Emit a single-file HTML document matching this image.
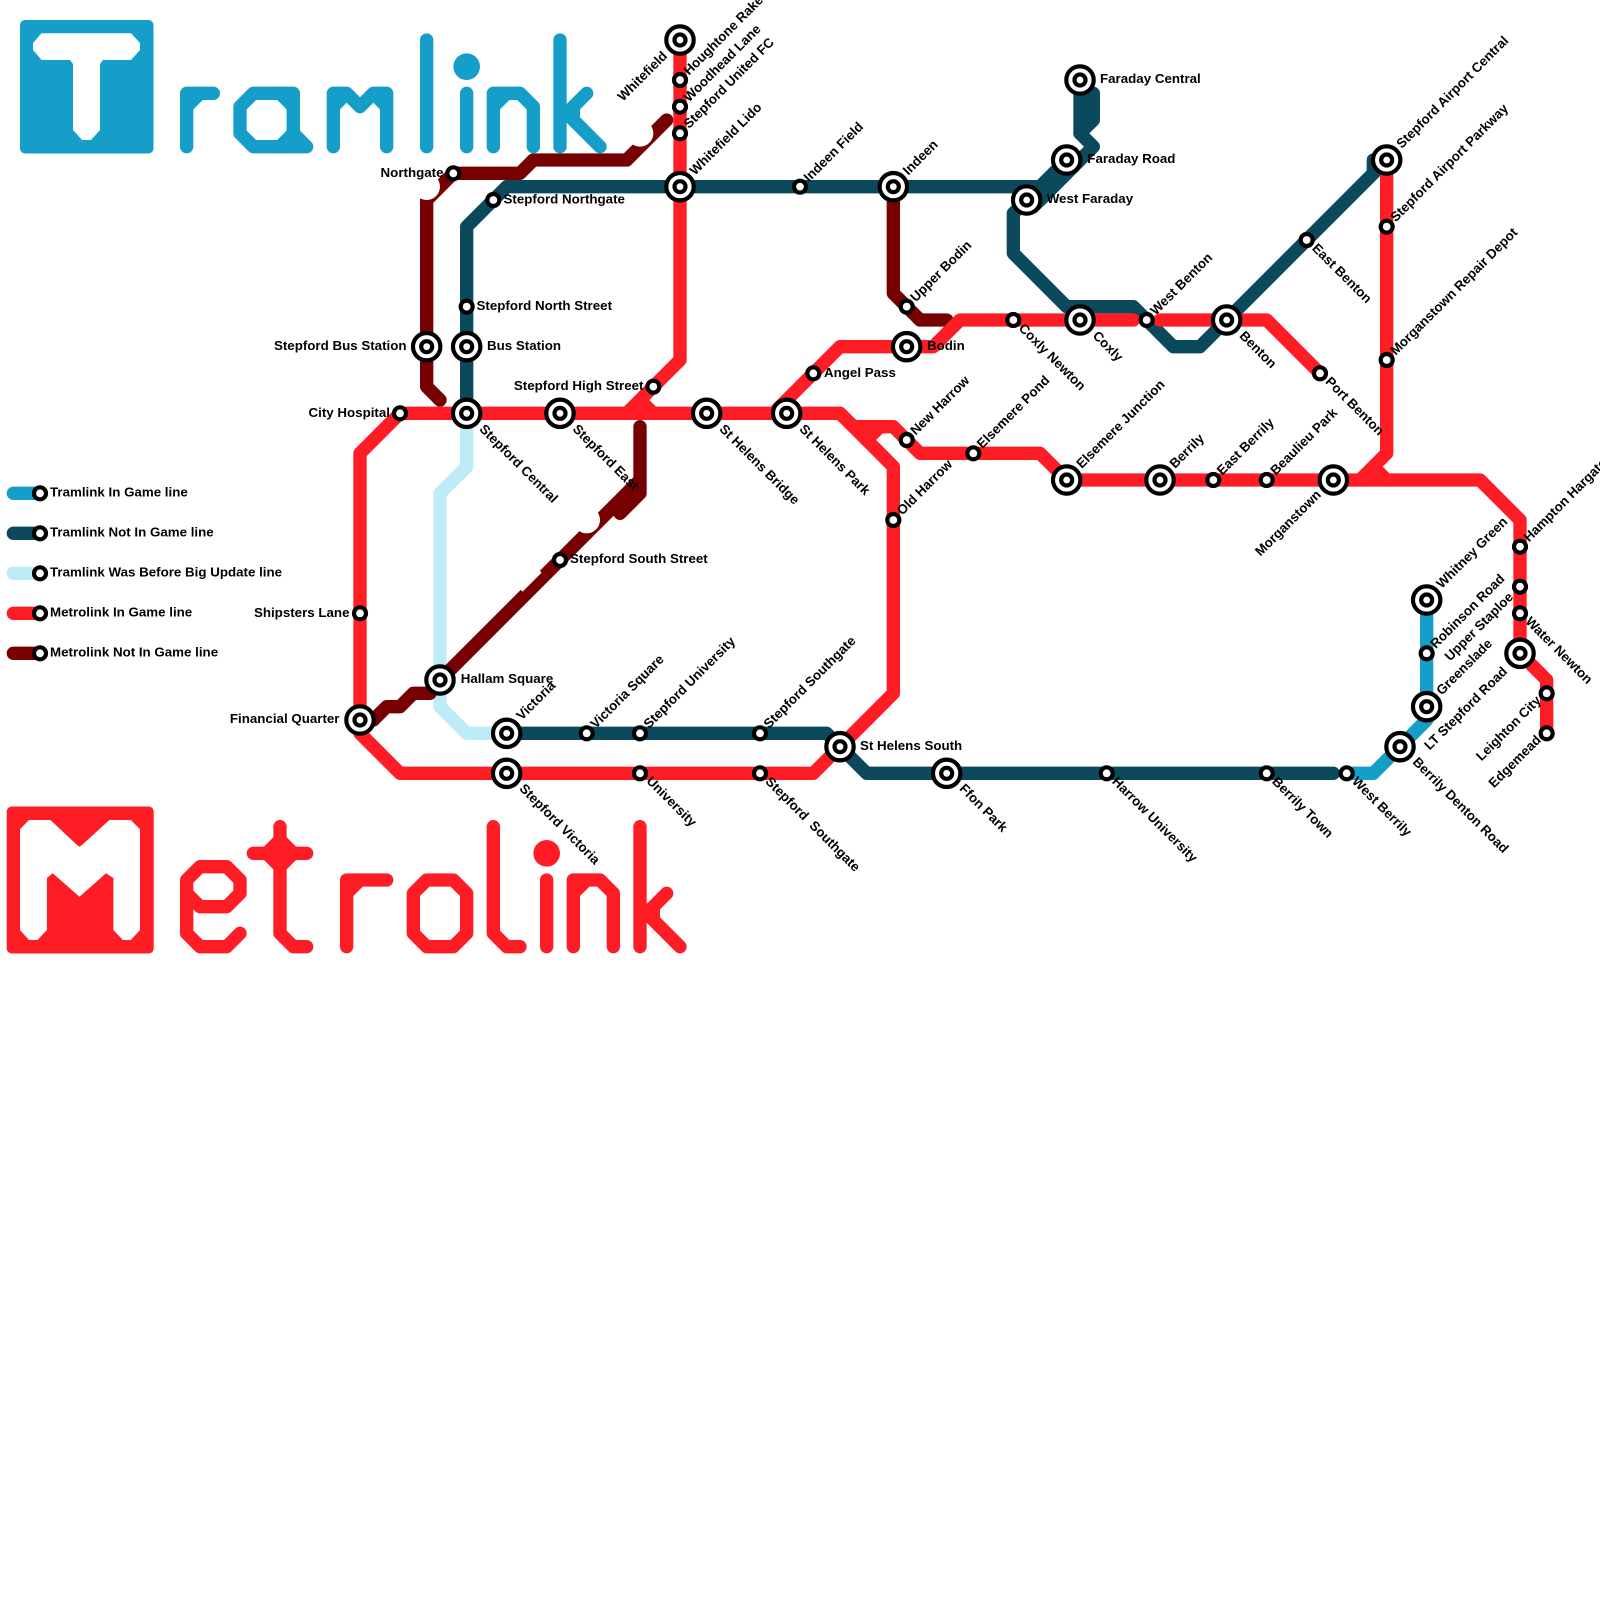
<!DOCTYPE html>
<html><head><meta charset="utf-8"><title>Tramlink and Metrolink</title>
<style>
html,body{margin:0;padding:0;background:#fff}
svg{display:block}
.l{fill:none;stroke-width:13.33;stroke-linecap:round;stroke-linejoin:round}
.b{stroke:#149ec8}.t{stroke:#0b4a5c}.p{stroke:#bdebf7}.r{stroke:#ff1d25}.d{stroke:#770000}
.s{fill:#fff;stroke:#000;stroke-width:4.2}
text{font-family:"Liberation Sans",Arial,sans-serif;font-weight:bold;font-size:13.33px;fill:#000;white-space:pre}
.e{text-anchor:end}
</style></head><body>
<svg xmlns="http://www.w3.org/2000/svg" width="1600" height="1600" viewBox="0 0 1600 1600">
<rect width="1600" height="1600" fill="#fff"/>

<!-- Tramlink logo -->
<rect x="20" y="20" width="133.5" height="133.5" rx="5" fill="#149ec8"/>
<polygon points="33,43 41.5,33.3 131,33.3 140,43 140,50 131,60 41.5,60 33,50" fill="#fff"/>
<polygon points="70,60 103,60 100,64 100,130 91,140 82,140 73,130 73,64" fill="#fff"/>
<path class="l b" d="M186.67 146.67V93.33H213.33M186.67 106.67L200 93.33"/>
<path class="l b" d="M253.33 93.33H280L293.33 106.67V133.33L280 146.67H253.33L240 133.33V106.67Z"/>
<path class="l b" d="M280 93.33H293.33V133.33L306.67 146.67H280"/>
<path class="l b" d="M333.33 146.67V93.33H346.67L360 106.67L373.33 93.33H386.67V146.67M333.33 106.67L346.67 93.33M373.33 93.33L386.67 106.67"/>
<path class="l b" d="M426.67 40V146.67M466.67 93.33V146.67"/>
<path class="l b" d="M493.33 146.67V93.33H520L533.33 106.67V146.67M493.33 106.67L506.67 93.33"/>
<path class="l b" d="M560 40V146.67M560 120L586.67 93.33M560 106.67L600 146.67M573.33 106.67V120"/>
<circle cx="466.67" cy="66.67" r="13.33" fill="#149ec8"/>

<!-- Metrolink logo -->
<rect x="6.7" y="806.5" width="147" height="147" rx="5" fill="#ff1d25"/>
<polygon points="20,829.3 29,820 50.4,820 77,845 79.5,846.7 82,845 109.4,820 130.8,820 140,829.3 140,930 130.8,940 122.8,940 113.4,930 113.4,878 106,873.3 79.5,896.7 52.7,873.3 46.9,878 46.9,930 37.5,940 29,940 20,930" fill="#fff"/>
<path class="l r" d="M186.67 880L200 866.67H226.67L240 880V893.33L226.67 906.67H200L186.67 893.33V880V933.33L200 946.67H226.67L240 933.33"/>
<path class="l r" d="M280 826.67V933.33L293.33 946.67H306.67M253.33 853.33H306.67M266.67 853.33L280 840L293.33 853.33L280 866.67Z"/>
<path class="l r" d="M346.67 946.67V880H386.67M346.67 893.33L360 880"/>
<path class="l r" d="M426.67 880H453.33L466.67 893.33V933.33L453.33 946.67H426.67L413.33 933.33V893.33Z"/>
<path class="l r" d="M493.33 826.67V933.33L506.67 946.67H520M546.67 880V946.67"/>
<path class="l r" d="M573.33 946.67V880H600L613.33 893.33V946.67M573.33 893.33L586.67 880"/>
<path class="l r" d="M640 826.67V946.67M640 920L666.67 893.33M640 906.67L680 946.67M653.33 906.67V920"/>
<circle cx="546.67" cy="853.33" r="13.33" fill="#ff1d25"/>

<!-- Lines -->
<path class="l p" d="M466.67 413.33V466.67L440 493.33V706.67L466.67 733.33H506.67"/>
<path class="l t" d="M466.67 413.33V226.67L506.67 186.67H1040L1066.67 160"/>
<path class="l t" d="M1080 80V133.33L1093.33 146.67L1033 207"/>
<path class="l t" d="M1026.67 200L1013.33 213.33V253.33L1066.67 306.67H1133.33L1173.33 346.67H1200L1386.67 160H1373.33V173.33"/>
<path class="l t" d="M1093.33 93.33V120L1080 133.33M1086 100V126"/>
<path class="l t" d="M1040 200L1080 160"/>
<path class="l t" d="M506.67 733.33H826.67L866.67 773.33H1333.33"/>
<path class="l b" d="M1426.67 600V720L1373.33 773.33H1346.67"/>
<path class="l d" d="M440 400L426.67 386.67V200L453.33 173.33H520L533.33 160H626.67L666.67 120"/>
<path class="l d" d="M893.33 186.67V293.33L920 320H946.67"/>
<path class="l d" d="M640 426.67V480L440 680M640 480V493.33L620 513.33"/>
<path class="l d" d="M373.33 720L386.67 706.67H400L413.33 693.33H430"/>
<circle cx="426.67" cy="186.67" r="13.33" fill="#fff"/>
<circle cx="640" cy="133.33" r="13.33" fill="#fff"/>
<circle cx="586.67" cy="520" r="13.33" fill="#fff"/>
<path d="M520.5 589.5L539.5 570.5" fill="none" stroke="#fff" stroke-width="6"/>
<path class="l r" d="M360 720V453.33L400 413.33H840L893.33 466.67V693.33L813.33 773.33H400L360 733.33V720"/>
<path class="l r" d="M680 40V360L626.67 413.33M640 400L653.33 413.33"/>
<path class="l r" d="M773.33 413.33L840 346.67H933.33L960 320H1133.33M1160 320H1266.67L1320 373.33"/>
<path class="l r" d="M840 413.33L853.33 426.67H893.33L920 453.33H1040L1066.67 480H1480L1520 520V653.33L1546.67 680V733.33M866.67 440L880 426.67"/>
<path class="l r" d="M1386.67 160V453.33L1360 480M1373.33 466.67L1386.67 480"/>

<!-- Legend lines -->
<path class="l b" d="M13.33 493.33H40"/>
<path class="l t" d="M13.33 533.33H40"/>
<path class="l p" d="M13.33 573.33H40"/>
<path class="l r" d="M13.33 613.33H40"/>
<path class="l d" d="M13.33 653.33H40"/>

<!-- Small stations -->
<g class="s">
<circle cx="40" cy="493.33" r="6"/><circle cx="40" cy="533.33" r="6"/><circle cx="40" cy="573.33" r="6"/><circle cx="40" cy="613.33" r="6"/><circle cx="40" cy="653.33" r="6"/>
<circle cx="453.33" cy="173.33" r="6"/><circle cx="493.33" cy="200" r="6"/><circle cx="466.67" cy="306.67" r="6"/><circle cx="400" cy="413.33" r="6"/><circle cx="360" cy="613.33" r="6"/>
<circle cx="680" cy="80" r="6"/><circle cx="680" cy="106.67" r="6"/><circle cx="680" cy="133.33" r="6"/><circle cx="800" cy="186.67" r="6"/>
<circle cx="906.67" cy="306.67" r="6"/><circle cx="813.33" cy="373.33" r="6"/><circle cx="653.33" cy="386.67" r="6"/><circle cx="560" cy="560" r="6"/>
<circle cx="906.67" cy="440" r="6"/><circle cx="973.33" cy="453.33" r="6"/><circle cx="893.33" cy="520" r="6"/><circle cx="1013.33" cy="320" r="6"/>
<circle cx="1146.67" cy="320" r="6"/><circle cx="1306.67" cy="240" r="6"/><circle cx="1386.67" cy="226.67" r="6"/><circle cx="1386.67" cy="360" r="6"/><circle cx="1320" cy="373.33" r="6"/>
<circle cx="1213.33" cy="480" r="6"/><circle cx="1266.67" cy="480" r="6"/><circle cx="1520" cy="546.67" r="6"/><circle cx="1520" cy="586.67" r="6"/><circle cx="1520" cy="613.33" r="6"/>
<circle cx="1426.67" cy="653.33" r="6"/><circle cx="1546.67" cy="693.33" r="6"/><circle cx="1546.67" cy="733.33" r="6"/>
<circle cx="586.67" cy="733.33" r="6"/><circle cx="640" cy="733.33" r="6"/><circle cx="760" cy="733.33" r="6"/><circle cx="640" cy="773.33" r="6"/><circle cx="760" cy="773.33" r="6"/>
<circle cx="1106.67" cy="773.33" r="6"/><circle cx="1266.67" cy="773.33" r="6"/><circle cx="1346.67" cy="773.33" r="6"/>
</g>

<!-- Interchange stations -->
<g class="s">
<circle cx="680" cy="40" r="13.7"/><circle cx="680" cy="40" r="5.5"/>
<circle cx="680" cy="186.67" r="13.7"/><circle cx="680" cy="186.67" r="5.5"/>
<circle cx="893.33" cy="186.67" r="13.7"/><circle cx="893.33" cy="186.67" r="5.5"/>
<circle cx="1080" cy="80" r="13.7"/><circle cx="1080" cy="80" r="5.5"/>
<circle cx="1066.67" cy="160" r="13.7"/><circle cx="1066.67" cy="160" r="5.5"/>
<circle cx="1026.67" cy="200" r="13.7"/><circle cx="1026.67" cy="200" r="5.5"/>
<circle cx="426.67" cy="346.67" r="13.7"/><circle cx="426.67" cy="346.67" r="5.5"/>
<circle cx="466.67" cy="346.67" r="13.7"/><circle cx="466.67" cy="346.67" r="5.5"/>
<circle cx="466.67" cy="413.33" r="13.7"/><circle cx="466.67" cy="413.33" r="5.5"/>
<circle cx="560" cy="413.33" r="13.7"/><circle cx="560" cy="413.33" r="5.5"/>
<circle cx="706.67" cy="413.33" r="13.7"/><circle cx="706.67" cy="413.33" r="5.5"/>
<circle cx="786.67" cy="413.33" r="13.7"/><circle cx="786.67" cy="413.33" r="5.5"/>
<circle cx="906.67" cy="346.67" r="13.7"/><circle cx="906.67" cy="346.67" r="5.5"/>
<circle cx="1080" cy="320" r="13.7"/><circle cx="1080" cy="320" r="5.5"/>
<circle cx="1226.67" cy="320" r="13.7"/><circle cx="1226.67" cy="320" r="5.5"/>
<circle cx="1386.67" cy="160" r="13.7"/><circle cx="1386.67" cy="160" r="5.5"/>
<circle cx="1066.67" cy="480" r="13.7"/><circle cx="1066.67" cy="480" r="5.5"/>
<circle cx="1160" cy="480" r="13.7"/><circle cx="1160" cy="480" r="5.5"/>
<circle cx="1333.33" cy="480" r="13.7"/><circle cx="1333.33" cy="480" r="5.5"/>
<circle cx="1426.67" cy="600" r="13.7"/><circle cx="1426.67" cy="600" r="5.5"/>
<circle cx="1426.67" cy="706.67" r="13.7"/><circle cx="1426.67" cy="706.67" r="5.5"/>
<circle cx="1520" cy="653.33" r="13.7"/><circle cx="1520" cy="653.33" r="5.5"/>
<circle cx="1400" cy="746.67" r="13.7"/><circle cx="1400" cy="746.67" r="5.5"/>
<circle cx="440" cy="680" r="13.7"/><circle cx="440" cy="680" r="5.5"/>
<circle cx="360" cy="720" r="13.7"/><circle cx="360" cy="720" r="5.5"/>
<circle cx="506.67" cy="733.33" r="13.7"/><circle cx="506.67" cy="733.33" r="5.5"/>
<circle cx="506.67" cy="773.33" r="13.7"/><circle cx="506.67" cy="773.33" r="5.5"/>
<circle cx="840" cy="746.67" r="13.7"/><circle cx="840" cy="746.67" r="5.5"/>
<circle cx="946.67" cy="773.33" r="13.7"/><circle cx="946.67" cy="773.33" r="5.5"/>
</g>

<!-- Legend labels -->
<text x="50" y="496.5">Tramlink In Game line</text>
<text x="50" y="536.5">Tramlink Not In Game line</text>
<text x="50" y="576.5">Tramlink Was Before Big Update line</text>
<text x="50" y="616.5">Metrolink In Game line</text>
<text x="50" y="656.5">Metrolink Not In Game line</text>

<!-- Horizontal labels -->
<text class="e" x="443.5" y="177">Northgate</text>
<text x="503.5" y="203.5">Stepford Northgate</text>
<text x="476.5" y="310">Stepford North Street</text>
<text class="e" x="406.5" y="350">Stepford Bus Station</text>
<text x="487" y="350">Bus Station</text>
<text class="e" x="390" y="417">City Hospital</text>
<text class="e" x="643.5" y="390">Stepford High Street</text>
<text x="460.7" y="683">Hallam Square</text>
<text class="e" x="339.5" y="723">Financial Quarter</text>
<text class="e" x="349.5" y="617">Shipsters Lane</text>
<text x="570" y="563">Stepford South Street</text>
<text x="860" y="750">St Helens South</text>
<text x="824" y="377">Angel Pass</text>
<text x="927" y="350">Bodin</text>
<text x="1100" y="83">Faraday Central</text>
<text x="1087.3" y="163">Faraday Road</text>
<text x="1046.7" y="203">West Faraday</text>

<!-- NE small -->
<text transform="translate(689,75.8) rotate(-45)">Houghtone Rake</text>
<text transform="translate(689,102.5) rotate(-45)">Woodhead Lane</text>
<text transform="translate(689,129.1) rotate(-45)">Stepford United FC</text>
<text transform="translate(809,182.5) rotate(-45)">Indeen Field</text>
<text transform="translate(915.7,302.5) rotate(-45)">Upper Bodin</text>
<text transform="translate(915.7,435.8) rotate(-45)">New Harrow</text>
<text transform="translate(982.3,449.1) rotate(-45)">Elsemere Pond</text>
<text transform="translate(902.3,515.8) rotate(-45)">Old Harrow</text>
<text transform="translate(1155.7,315.8) rotate(-45)">West Benton</text>
<text transform="translate(1395.7,222.5) rotate(-45)">Stepford Airport Parkway</text>
<text transform="translate(1395.7,355.8) rotate(-45)">Morganstown Repair Depot</text>
<text transform="translate(1222.3,475.8) rotate(-45)">East Berrily</text>
<text transform="translate(1275.7,475.8) rotate(-45)">Beaulieu Park</text>
<text transform="translate(1529,542.5) rotate(-45)">Hampton Hargate</text>
<text transform="translate(1435.7,649.1) rotate(-45)">Robinson Road</text>
<text transform="translate(595.7,729.1) rotate(-45)">Victoria Square</text>
<text transform="translate(649,729.1) rotate(-45)">Stepford University</text>
<text transform="translate(769,729.1) rotate(-45)">Stepford Southgate</text>

<!-- NE big -->
<text transform="translate(695,175.7) rotate(-45)">Whitefield Lido</text>
<text transform="translate(908.3,175.7) rotate(-45)">Indeen</text>
<text transform="translate(1401.7,149) rotate(-45)">Stepford Airport Central</text>
<text transform="translate(1081.7,469) rotate(-45)">Elsemere Junction</text>
<text transform="translate(1175,469) rotate(-45)">Berrily</text>
<text transform="translate(1441.7,589) rotate(-45)">Whitney Green</text>
<text transform="translate(1441.7,695.7) rotate(-45)">Greenslade</text>
<text transform="translate(521.7,720.8) rotate(-45)">Victoria</text>

<!-- SE small -->
<text transform="translate(1018,329) rotate(45)">Coxly Newton</text>
<text transform="translate(1311.4,249) rotate(45)">East Benton</text>
<text transform="translate(1324.7,382.3) rotate(45)">Port Benton</text>
<text transform="translate(1524.7,622.3) rotate(45)">Water Newton</text>
<text transform="translate(645.7,781.8) rotate(45)">University</text>
<text transform="translate(764.7,782.3) rotate(45)">Stepford  Southgate</text>
<text transform="translate(1111.4,782.3) rotate(45)">Harrow University</text>
<text transform="translate(1271.4,782.3) rotate(45)">Berrily Town</text>
<text transform="translate(1351.4,782.3) rotate(45)">West Berrily</text>

<!-- SE big -->
<text transform="translate(478.7,429.8) rotate(45)">Stepford Central</text>
<text transform="translate(572,429.8) rotate(45)">Stepford East</text>
<text transform="translate(718.7,429.8) rotate(45)">St Helens Bridge</text>
<text transform="translate(798.7,429.8) rotate(45)">St Helens Park</text>
<text transform="translate(1092,336.5) rotate(45)">Coxly</text>
<text transform="translate(1238.7,336.5) rotate(45)">Benton</text>
<text transform="translate(518.7,789.3) rotate(45)">Stepford Victoria</text>
<text transform="translate(958.7,789.3) rotate(45)">Ffon Park</text>
<text transform="translate(1412,762.7) rotate(45)">Berrily Denton Road</text>

<!-- West (end anchored) -->
<text class="e" transform="translate(668,56.7) rotate(-45)">Whitefield</text>
<text class="e" transform="translate(1321.8,495.5) rotate(-45)">Morganstown</text>
<text class="e" transform="translate(1508,672.3) rotate(-45)">LT Stepford Road</text>
<text class="e" transform="translate(1514,597.7) rotate(-45)">Upper Staploe</text>
<text class="e" transform="translate(1541.7,701.3) rotate(-45)">Leighton City</text>
<text class="e" transform="translate(1541.7,740.8) rotate(-45)">Edgemead</text>
</svg>
</body></html>
